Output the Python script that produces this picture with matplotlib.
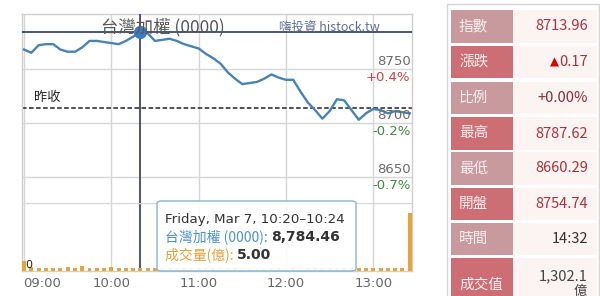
import numpy as np
import matplotlib
matplotlib.use("Agg")
import matplotlib.pyplot as plt
from matplotlib.patches import Rectangle, FancyBboxPatch
from matplotlib.transforms import blended_transform_factory

CJK = ["Noto Sans CJK TC", "DejaVu Sans"]

# ---- intraday data (5-minute bars, minutes after 09:00) ----
bar_minutes = list(range(0, 270, 5))
index_values = [
    8768, 8765, 8772, 8773, 8773, 8768, 8766, 8766, 8770, 8776,
    8776, 8775, 8774, 8773, 8776, 8780, 8784.46, 8783, 8776, 8777,
    8778, 8776, 8773, 8771, 8769, 8764, 8760, 8755, 8747, 8741,
    8736, 8737, 8738, 8741, 8745, 8742, 8740, 8740, 8729, 8719,
    8712, 8704, 8711, 8722, 8721, 8712, 8703, 8709, 8713, 8712,
    8709, 8711, 8710, 8709,
]
volume_values = [
    14.0, 5.5, 5.0, 5.0, 5.0, 5.0, 5.5, 5.0, 7.0, 5.0,
    5.0, 4.5, 6.0, 5.0, 4.5, 4.5, 5.00, 4.5, 4.5, 4.0,
    4.0, 4.0, 4.5, 4.0, 4.0, 4.5, 4.5, 4.0, 4.0, 4.0,
    4.0, 3.5, 3.5, 3.5, 4.0, 4.0, 3.5, 4.0, 4.0, 4.5,
    4.5, 4.0, 4.0, 4.0, 4.0, 4.0, 4.5, 4.5, 4.5, 4.0,
    4.5, 4.5, 5.0, 85.0,
]
prev_close = 8713.79
hour_ticks = [0, 60, 120, 180, 240]
hour_labels = ["09:00", "10:00", "11:00", "12:00", "13:00"]
price_ticks = [8750, 8700, 8650]
pct_labels = ["+0.4%", "-0.2%", "-0.7%"]
pct_colors = ["#d0413f", "#3f8a3f", "#3f8a3f"]

# tooltip / crosshair
hover_idx = 16
hover_title = "Friday, Mar 7, 10:20\u201310:24"

# summary table
table_labels = ["指數", "漲跌", "比例", "最高", "最低", "開盤", "時間", "成交值"]
table_values = ["8713.96", "0.17", "+0.00%", "8787.62", "8660.29", "8754.74", "14:32", "1,302.1"]

W, H = 600, 296
fig = plt.figure(figsize=(W / 100, H / 100), dpi=100)
fig.patch.set_facecolor("white")
renderer = fig.canvas.get_renderer()


def fx(x):
    return x / W


def fy(y):
    return 1 - y / H


# ---- price axes ----
ax_l, ax_r, ax_t, ax_b = 22, 412, 14, 271
ax = fig.add_axes([fx(ax_l), fy(ax_b), (ax_r - ax_l) / W, (ax_b - ax_t) / H])
ax.set_xlim(-1.4, 266.6)
ax.set_ylim(8562.96, 8800.93)
ax.set_facecolor("none")
for s in ax.spines.values():
    s.set_color("#cfcfcf")
    s.set_linewidth(1)
ax.set_xticks([])
ax.set_yticks([])

grid_c = "#d6d6d6"
for t in hour_ticks:
    ax.axvline(t, color=grid_c, lw=1, zorder=0)
for p in price_ticks:
    ax.axhline(p, color=grid_c, lw=1, zorder=0)

# volume panel underneath
axv = fig.add_axes([fx(ax_l), fy(ax_b), (ax_r - ax_l) / W, 68 / H], sharex=ax)
axv.set_ylim(0, 100)
axv.set_facecolor("none")
axv.axis("off")
axv.axhline(100, color=grid_c, lw=1, zorder=0)
axv.bar(bar_minutes, volume_values, width=2.7, color="#e6a53c", zorder=2)
axv.text(3, 2, "0", fontsize=8, color="#222", va="bottom", ha="center", zorder=3)

# index line
ax.plot(bar_minutes, index_values, color="#4783b6", lw=1.7, zorder=3,
        solid_joinstyle="round")

# previous close reference
ax.axhline(prev_close, color="#222", lw=1.1, ls=(0, (3, 1.6)), zorder=2)
ax.text(7, prev_close + 4, "昨收", fontsize=9.5, family=CJK, color="#222",
        va="bottom", ha="left")

# right-side price / percent labels
for p, lab, c in zip(price_ticks, pct_labels, pct_colors):
    ax.annotate(str(p), (1, p), xycoords=("axes fraction", "data"),
                xytext=(-1, 5.4), textcoords="offset points",
                ha="right", va="center", fontsize=9.5, color="#6a6a6a")
    ax.annotate(lab, (1, p), xycoords=("axes fraction", "data"),
                xytext=(-1, -6.3), textcoords="offset points",
                ha="right", va="center", fontsize=9.5, color=c)

# hour labels
tr = blended_transform_factory(ax.transData, ax.transAxes)
for t, lab in zip(hour_ticks, hour_labels):
    ax.text(t if t else -0.8, -0.047, lab, transform=tr, fontsize=9.5,
            color="#666", ha="left" if t == 0 else "center", va="center",
            clip_on=False)

# title and site mark
fig.text(fx(163), fy(27), "台灣加權 (0000)", family=CJK, fontsize=12.5,
         color="#555", ha="center", va="center")
fig.text(fx(329), fy(27), "嗨投資 histock.tw", family=CJK, fontsize=9,
         color="#5d6e98", ha="center", va="center")

# crosshair at hovered bar
hx, hy = bar_minutes[hover_idx], index_values[hover_idx]
ax.axhline(hy, color="#1e2750", lw=1.1, zorder=4)
ax.axvline(hx, color="#1e2750", lw=1.1, zorder=4)
ax.plot([hx], [hy], "o", ms=8.5, color="#3a7cc0", zorder=5)

# tooltip box
tip = FancyBboxPatch((fx(157), fy(271)), fx(356) - fx(157), fy(201) - fy(271),
                     boxstyle="round,pad=0,rounding_size=0.008",
                     transform=fig.transFigure, facecolor="white", alpha=0.9,
                     edgecolor="#84b4d6", lw=1.1, zorder=5)
fig.patches.append(tip)


def run_text(x, y, parts, size):
    xpos = fx(x)
    for s, color, weight, fam in parts:
        t = fig.text(xpos, fy(y), s, fontsize=size, color=color,
                     fontweight=weight, family=fam, ha="left", va="center",
                     zorder=6)
        bb = t.get_window_extent(renderer)
        xpos = bb.x1 / fig.bbox.width


run_text(165, 219, [(hover_title, "#333", "normal", ["DejaVu Sans"])], 9.6)
run_text(165, 237, [("台灣加權 (0000): ", "#4a94cc", "normal", CJK),
                    (f"{index_values[hover_idx]:,.2f}", "#333", "bold", ["DejaVu Sans"])], 10)
run_text(165, 255, [("成交量(億): ", "#e3a33b", "normal", CJK),
                    (f"{volume_values[hover_idx]:.2f}", "#333", "bold", ["DejaVu Sans"])], 10)

# ---- summary table ----
outer = Rectangle((fx(447), fy(300)), fx(599) - fx(447), fy(4) - fy(300),
                  transform=fig.transFigure, facecolor="white",
                  edgecolor="#d4d4d4", lw=1, zorder=1)
fig.patches.append(outer)
row_tops = [10, 46, 82, 117, 152, 188, 223, 258]
row_h = [33, 32, 32, 33, 33, 32, 32, 45]
light, dark = "#c8999d", "#cc6e73"
val_colors = ["#a8323e", "#a8323e", "#8a2a35", "#a8323e", "#a8323e", "#a8323e", "#333", "#444"]
for i, (lab, val) in enumerate(zip(table_labels, table_values)):
    top, h = row_tops[i], row_h[i]
    fig.patches.append(Rectangle((fx(451), fy(top + h)), fx(513) - fx(451), h / H,
                                 transform=fig.transFigure,
                                 facecolor=light if i % 2 == 0 else dark,
                                 edgecolor="none", zorder=2))
    fig.patches.append(Rectangle((fx(513), fy(top + h)), fx(597) - fx(513), h / H,
                                 transform=fig.transFigure, facecolor="#fcf3f3",
                                 edgecolor="none", zorder=2))
    ly = top + h / 2 if i < 7 else 285
    fig.text(fx(459), fy(ly), lab, family=CJK, fontsize=10.5, color="#fbf0f0",
             ha="left", va="center", zorder=3)
    vy = top + h / 2 if i < 7 else 276
    vt = fig.text(fx(588), fy(vy), val, family=CJK, fontsize=10.5,
                  color=val_colors[i], ha="right", va="center", zorder=3)
    if i == 1:
        # up-arrow sits right before the change value
        left = vt.get_window_extent(renderer).x0 / fig.bbox.width
        fig.text(left - 0.5 / W, fy(vy), "\u25B2", family=["DejaVu Sans"],
                 fontsize=8.5, color="#dd0000", ha="right", va="center",
                 zorder=3)
fig.text(fx(580), fy(291), "億", family=CJK, fontsize=9.5, color="#444",
         ha="center", va="center", zorder=3)

fig.savefig("out.png", dpi=100)
